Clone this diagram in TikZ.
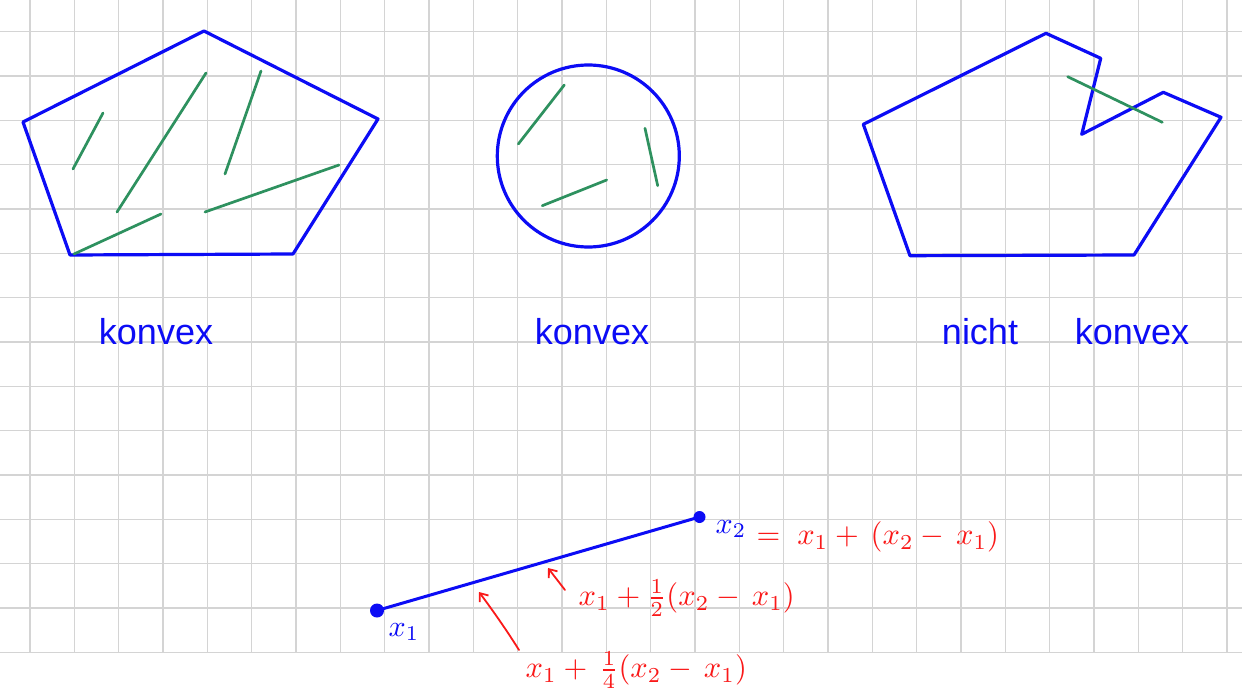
\documentclass[tikz,border=0pt]{standalone}
\usepackage{fontspec}
\setmainfont{Liberation Sans}
\usetikzlibrary{arrows.meta}
\definecolor{inkblue}{RGB}{12,12,245}
\definecolor{inkgreen}{RGB}{46,145,95}
\definecolor{inkred}{RGB}{250,25,25}
\definecolor{gridgray}{RGB}{212,212,212}
\tikzset{
  gridline/.style={draw=gridgray, line width=1.3pt},
  shapeline/.style={draw=inkblue, line width=3.2pt, line join=round, line cap=round},
  chord/.style={draw=inkgreen, line width=2.7pt, line cap=round},
  word/.style={text=inkblue, font=\fontsize{36}{40}\selectfont, inner sep=0pt, anchor=base},
  redlabel/.style={text=inkred, scale=3.05, inner sep=0pt, anchor=west},
  bluelabel/.style={text=inkblue, scale=3.0, inner sep=0pt},
  dot/.style={circle, fill=inkblue, inner sep=0pt},
  pointer/.style={draw=inkred, line width=1.8pt, line cap=round, -{Straight Barb[length=7pt,width=11pt,line width=1.8pt]}}
}
\begin{document}
\begin{tikzpicture}[x=1pt,y=-1pt]
\useasboundingbox (0,0) rectangle (1242,698);
\fill[white] (0,0) rectangle (1242,698);
% grid
\foreach \i in {0,...,27} \draw[gridline] ({30+44.33*\i},0) -- ({30+44.33*\i},652.3);
\foreach \j in {0,...,14} \draw[gridline] (0,{31.7+44.33*\j}) -- (1242,{31.7+44.33*\j});

% convex pentagon
\draw[shapeline] (204,31) -- (378,119) -- (293,254) -- (70,255) -- (23,122) -- cycle;
\draw[chord] (73,169) -- (103,113);
\draw[chord] (117,212) -- (206,73);
\draw[chord] (225,174) -- (261,71);
\draw[chord] (205,212) -- (339,165);
\draw[chord] (74,254) -- (161,214);

% circle
\draw[shapeline] (588.3,156) circle (91);
\draw[chord] (518.3,144) -- (564.3,85);
\draw[chord] (645,128.3) -- (657.7,185.7);
\draw[chord] (542.3,205.7) -- (606.7,180);

% non-convex shape
\draw[shapeline] (1046,33.3) -- (1100.7,58.3) -- (1081.7,134.3) -- (1163.3,92.3) -- (1221,117.3) -- (1134,255) -- (910,255.7) -- (863.3,124.3) -- cycle;
\draw[chord] (1067.7,76.7) -- (1162.3,122.3);

% labels
\node[word] (k1) at (156,344) {konvex};
\node[word] (k2) at (592,344) {konvex};
\node[word] (nicht) at (980,344) {nicht};
\node[word] (k3) at (1132,344) {konvex};

% segment
\node[dot, minimum size=14pt] (x1) at (377,610.5) {};
\node[dot, minimum size=12pt] (x2) at (699.5,517) {};
\draw[draw=inkblue, line width=3pt] (x1.center) -- (x2.center);
\node[bluelabel] (lx1) at (404,632) {$x_1$};
\node[bluelabel] (lx2) at (731,529) {$x_2$};
\node[redlabel] (eq) at (756,537) {$=\;x_1+\,(x_2-\,x_1)$};
\node[redlabel] (half) at (578,598) {$x_1+{\textstyle\frac{1}{2}}(x_2-\,x_1)$};
\node[redlabel] (quarter) at (525,670) {$x_1+\,{\textstyle\frac{1}{4}}(x_2-\,x_1)$};
\coordinate (h0) at (565,590);
\coordinate (h1) at (548,568);
\coordinate (q0) at (519,650);
\coordinate (q1) at (479,592);
\draw[pointer] (h0) -- (h1);
\draw[pointer] (q0) .. controls (504,626) and (488,604) .. (q1);
\end{tikzpicture}
\end{document}
